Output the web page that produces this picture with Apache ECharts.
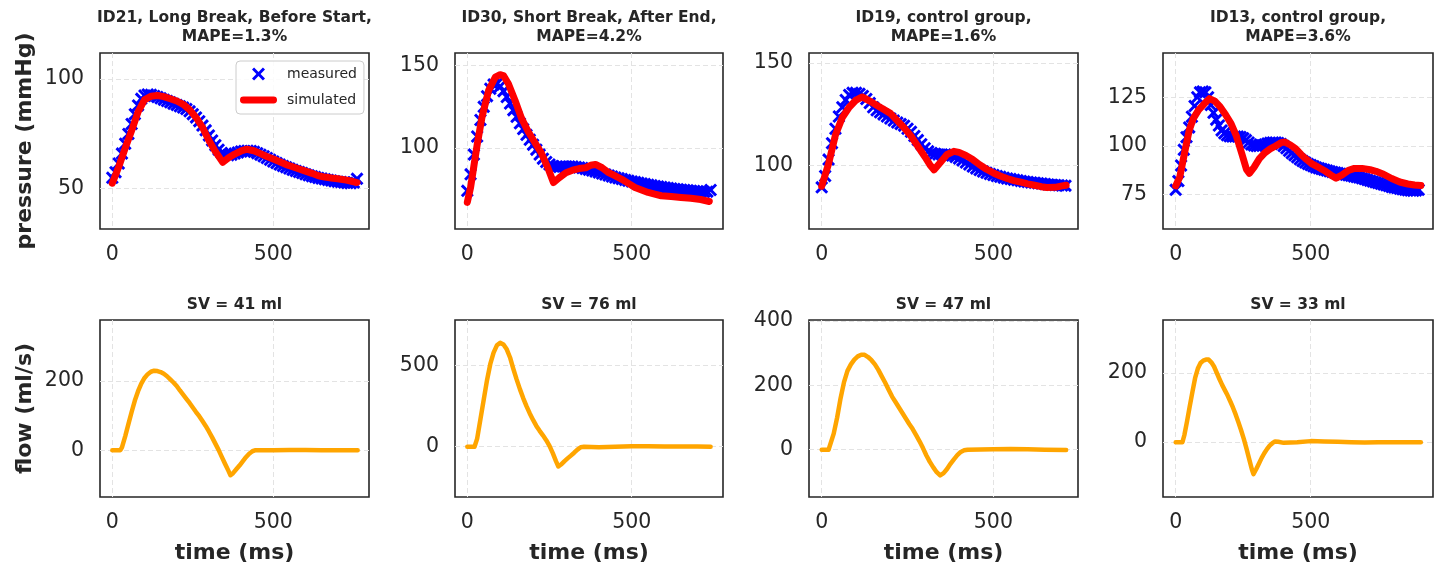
<!DOCTYPE html>
<html><head><meta charset="utf-8">
<script src="https://cdn.jsdelivr.net/npm/echarts@6/dist/echarts.min.js"></script>
<style>html,body{margin:0;padding:0;background:#fff}#c{width:1440px;height:571px}</style>
</head><body><div id="c"></div>
<script>
// ---------------- data ----------------
const titles = [
  'ID21, Long Break, Before Start,\nMAPE=1.3%',
  'ID30, Short Break, After End,\nMAPE=4.2%',
  'ID19, control group,\nMAPE=1.6%',
  'ID13, control group,\nMAPE=3.6%'
];
const svTitles = ['SV = 41 ml', 'SV = 76 ml', 'SV = 47 ml', 'SV = 33 ml'];
const measStep = 10; // ms between measured samples

const measured1 = [55,57.5,61.5,66,70.5,75,79.5,84,88,91,
  92.5,93,92.8,92.3,91.8,91.2,90.6,90,89.4,88.8,
  88.2,87.6,87,86.3,85.3,84,82.5,80.8,78.8,76.6,
  74.3,72,69.8,67.8,66.3,65.5,65.3,65.5,66,66.5,
  67,67.2,67.3,67.2,66.8,66.2,65.5,64.8,64,63.2,
  62.4,61.7,61,60.4,59.8,59.2,58.6,58.1,57.6,57.1,
  56.6,56.1,55.7,55.3,54.9,54.6,54.3,54,53.7,53.4,
  53.2,53,52.8,52.6,52.5,52.8,54.5];
const measured2 = [74,84,96,107,117,125,131.5,136,138.5,139,
  137.5,134.5,131,127,123,119,115,111.5,108,105,
  102,99,96,93.5,91.5,90,89,88.5,88.5,88.7,
  88.8,88.8,88.7,88.5,88.2,87.8,87.3,86.8,86.3,85.7,
  85.1,84.5,83.9,83.3,82.7,82.1,81.6,81.1,80.6,80.1,
  79.7,79.3,78.9,78.5,78.1,77.7,77.3,76.9,76.6,76.3,
  76,75.7,75.4,75.1,74.9,74.7,74.5,74.3,74.1,73.9,
  73.7,73.5,73.3,73.5,74.5];
const measured3 = [89.5,95,103,111,118,124,128.5,132,134.5,135.5,
  135.5,135,134,132.5,130.5,128.5,127,126,125,124,
  123,122,121,120.3,119.5,118,116.5,114.5,112.5,110.5,
  108.5,107,106.2,105.8,105.5,105.5,105.5,105.3,105,104.3,
  103.5,102.6,101.6,100.6,99.6,98.7,97.9,97.2,96.6,96,
  95.5,95,94.6,94.2,93.8,93.5,93.2,92.9,92.6,92.3,
  92.1,91.9,91.7,91.5,91.3,91.1,90.9,90.7,90.6,90.5,
  90.4,90.3];
const measured4 = [77.5,82,90,98,104.5,109.5,115,120.5,125,127.5,
  128,127.5,125,121,117,113.5,110.5,108,106.5,105.5,
  105,104.8,104.8,104.8,104.6,104,103,101.8,100.8,100.3,
  100,100,100.3,100.8,101.3,101.6,101.8,101.8,101.5,101,
  100,98.8,97.5,96.3,95.2,94.2,93.2,92.3,91.5,90.8,
  90.2,89.6,89,88.6,88.2,87.8,87.4,87,86.7,86.4,
  86.1,85.8,85.5,85.2,85,84.7,84.4,84.1,83.8,83.4,
  83,82.6,82.2,81.8,81.4,81,80.6,80.2,79.8,79.4,
  79,78.7,78.4,78.1,77.8,77.5,77.3,77.1,77,77.2,
  77.5];

const simulated1 = [[0,52.5],[20,60],[40,68.5],[60,76.5],[80,85],[100,90.5],[120,92.2],[140,92.5],[160,92],[180,91],[200,90],[220,88.5],[240,86],[260,82.5],[280,78],[300,72],[320,67],[343,62],[360,64],[380,65.8],[400,67.2],[418,68],[440,67.3],[460,66],[480,64.7],[500,63.5],[520,62.3],[540,61],[560,60],[580,59],[600,58],[620,57],[640,55.9],[660,55.3],[680,54.9],[700,54.5],[720,54.1],[740,53.5],[760,52.8]];
const simulated2 = [[0,67],[10,76],[20,89],[30,102],[45,119],[65,135],[85,143],[100,144.5],[110,144],[125,139],[145,129],[165,118],[185,110],[205,103.5],[225,97],[245,88],[262,79],[280,82],[300,85],[320,86.5],[340,87.5],[360,88],[375,89.5],[390,90],[410,88],[430,85],[450,83],[470,81],[490,78.5],[510,76],[530,74.5],[550,73],[570,72],[590,71],[620,70.5],[650,70],[680,69.5],[710,68.7],[736,67.5]];
const simulated3 = [[0,90],[20,101],[40,115],[60,123.5],[80,128.5],[100,132],[118,133.5],[140,131.5],[160,129.5],[180,127.5],[200,125.5],[220,122],[240,118.5],[260,114.5],[280,109.5],[300,104.5],[315,100.5],[327,98],[345,101.5],[365,105.5],[385,107],[400,106.5],[420,105],[440,103],[460,100.5],[480,98.3],[500,96.5],[520,95],[540,93.8],[560,92.8],[580,92],[600,91.2],[620,90.5],[640,89.8],[655,89.4],[680,89.5],[700,90.2],[712,90.5]];
const simulated4 = [[0,79.5],[15,84],[25,91],[38,100],[50,108],[65,114],[85,118.5],[105,121.5],[125,124.3],[145,123],[165,120],[185,116],[205,111.5],[225,105],[245,96],[262,88],[273,86],[290,89],[310,93.5],[330,96.5],[350,98.5],[370,100],[390,101.7],[405,102],[425,100.5],[445,98.5],[465,95.5],[485,93],[505,90.8],[530,89],[555,87],[575,85],[594,83.5],[615,85],[640,87.5],[662,88.5],[690,88.5],[720,87.8],[742,87],[770,85.5],[800,83.3],[830,81.5],[860,80.5],[885,80],[908,79.7]];

const flow1 = [[0,0],[25,0],[30,8],[40,40],[50,75],[60,110],[70,143],[80,170],[90,192],[100,208],[110,219],[120,226],[130,229],[140,228],[150,225],[160,220],[170,213],[180,204],[190,195],[200,185],[210,172],[220,160],[230,148],[240,136],[250,123],[260,110],[270,98],[280,84],[290,70],[300,54],[310,37],[320,19],[330,1],[340,-19],[350,-39],[360,-58],[367,-72],[375,-66],[385,-55],[395,-44],[405,-32],[415,-20],[425,-10],[435,-3],[445,0],[500,0],[550,1],[600,1],[650,0],[700,0],[762,0]];
const flow2 = [[0,0],[22,0],[30,50],[40,170],[50,290],[60,410],[70,510],[80,580],[90,625],[100,640],[110,630],[120,600],[130,550],[140,480],[150,415],[160,355],[170,300],[180,250],[190,205],[200,165],[210,128],[220,98],[230,70],[240,40],[250,5],[260,-40],[270,-90],[277,-122],[285,-110],[295,-90],[305,-72],[315,-55],[325,-37],[335,-18],[345,-3],[355,0],[400,-3],[450,0],[500,3],[550,3],[600,2],[650,1],[700,1],[740,0]];
const flow3 = [[0,0],[20,0],[25,5],[35,50],[45,100],[55,160],[65,210],[75,245],[85,265],[95,280],[105,290],[115,295],[125,295],[135,288],[145,278],[155,265],[165,248],[175,228],[185,208],[195,186],[205,165],[215,148],[225,131],[235,114],[245,97],[255,80],[265,64],[275,45],[285,26],[295,5],[305,-18],[315,-38],[325,-55],[335,-70],[345,-80],[355,-73],[365,-60],[375,-44],[385,-30],[395,-17],[405,-7],[415,-2],[425,0],[500,1],[550,2],[600,1],[650,0],[712,-1]];
const flow4 = [[0,0],[25,0],[32,20],[42,60],[52,103],[62,145],[72,185],[82,212],[92,228],[102,235],[112,238],[122,238],[132,230],[142,218],[152,200],[162,182],[172,165],[182,150],[192,135],[202,118],[212,100],[222,80],[232,58],[242,35],[252,10],[262,-18],[272,-48],[282,-78],[288,-92],[298,-78],[308,-62],[318,-46],[328,-32],[338,-20],[348,-10],[358,-3],[368,2],[380,1],[400,-2],[450,0],[500,3],[550,2],[600,1],[650,0],[700,-1],[750,0],[800,0],[850,0],[908,0]];

const xTicks = [0, 500];
const pressureTicks = [[50,100],[100,150],[100,150],[75,100,125]];
const flowTicks = [[0,200],[0,500],[0,200,400],[0,200]];
const xLimits = [[-38.2,797.2],[-37.4,777.7],[-37,746.5],[-47,953]];
const pressureLimits = [[31.6,111.9],[50.8,157.7],[69.2,154.9],[57.4,147.7]];
const flowLimits = [[-134.7,375],[-310,781],[-147,403],[-158,352]];

// ---------------- chart ----------------
const measured = [measured1, measured2, measured3, measured4];
const simulated = [simulated1, simulated2, simulated3, simulated4];
const flows = [flow1, flow2, flow3, flow4];

const FONT = 'DejaVu Sans';
const TXT = '#262626';
const colLeft = [100, 455, 809, 1163];
const colWidth = [269, 268, 269, 270];
const rowTop = [53, 320];
const rowHeight = [176, 177];
const xPath = 'path://M0,1.6 L1.6,0 L5,3.4 L8.4,0 L10,1.6 L6.6,5 L10,8.4 L8.4,10 L5,6.6 L1.6,10 L0,8.4 L3.4,5 Z';
const barPath = 'path://M3,0 L34,0 A3,3 0 0 1 34,7 L3,7 A3,3 0 0 1 3,0 Z';

const grids = [], xAxes = [], yAxes = [], series = [], graphics = [];
for (let r = 0; r < 2; r++) {
  for (let c = 0; c < 4; c++) {
    const i = r * 4 + c;
    grids.push({left: colLeft[c], top: rowTop[r], width: colWidth[c], height: rowHeight[r],
      show: true, borderColor: TXT, borderWidth: 1.6, backgroundColor: '#fff', containLabel: false});
    xAxes.push({type: 'value', gridIndex: i, min: xLimits[c][0], max: xLimits[c][1],
      axisLine: {show: false}, axisTick: {show: false, customValues: xTicks},
      axisLabel: {customValues: xTicks, fontSize: 20.5, color: TXT, fontFamily: FONT, margin: 15},
      splitLine: {show: true, lineStyle: {color: '#e3e3e3', type: [5, 3], width: 1}},
      name: r === 1 ? 'time (ms)' : '', nameLocation: 'middle', nameGap: 45,
      nameTextStyle: {fontSize: 22, fontWeight: 'bold', color: TXT, fontFamily: FONT}});
    const ticks = r === 0 ? pressureTicks[c] : flowTicks[c];
    const lim = r === 0 ? pressureLimits[c] : flowLimits[c];
    yAxes.push({type: 'value', gridIndex: i, min: lim[0], max: lim[1],
      axisLine: {show: false}, axisTick: {show: false, customValues: ticks},
      axisLabel: {customValues: ticks, fontSize: 20.5, color: TXT, fontFamily: FONT, margin: 16},
      splitLine: {show: true, lineStyle: {color: '#e3e3e3', type: [5, 3], width: 1}},
      name: c === 0 ? (r === 0 ? 'pressure (mmHg)' : 'flow (ml/s)') : '',
      nameLocation: 'middle', nameGap: 64, nameRotate: 90,
      nameTextStyle: {fontSize: 22, fontWeight: 'bold', color: TXT, fontFamily: FONT}});
    if (r === 0) {
      series.push({type: 'scatter', name: 'measured', xAxisIndex: i, yAxisIndex: i,
        data: measured[c].map((v, k) => [k * measStep, v]),
        symbol: xPath, symbolSize: 13, itemStyle: {color: '#0000ff', opacity: 1}, z: 2, silent: true});
      series.push({type: 'line', name: 'simulated', xAxisIndex: i, yAxisIndex: i,
        data: simulated[c], symbol: 'none', showSymbol: false, color: '#ff0000',
        itemStyle: {color: '#ff0000'},
        lineStyle: {color: '#ff0000', width: 7, cap: 'round', join: 'round'}, z: 3, silent: true});
      graphics.push({type: 'text', x: colLeft[c] + colWidth[c] / 2, y: 27,
        style: {text: titles[c], align: 'center', verticalAlign: 'middle', lineHeight: 19,
          font: 'bold 15.5px "DejaVu Sans"', fill: TXT}});
    } else {
      series.push({type: 'line', name: 'flow', xAxisIndex: i, yAxisIndex: i,
        data: flows[c], symbol: 'none', showSymbol: false, color: '#ffa500',
        lineStyle: {color: '#ffa500', width: 4.5, cap: 'round', join: 'round'}, z: 3, silent: true});
      graphics.push({type: 'text', x: colLeft[c] + colWidth[c] / 2, y: 305,
        style: {text: svTitles[c], align: 'center', verticalAlign: 'middle',
          font: 'bold 15.5px "DejaVu Sans"', fill: TXT}});
    }
  }
}

const chart = echarts.init(document.getElementById('c'), null, {renderer: 'canvas'});
chart.setOption({
  animation: false,
  backgroundColor: '#ffffff',
  textStyle: {fontFamily: FONT},
  grid: grids, xAxis: xAxes, yAxis: yAxes, series: series,
  legend: {show: true, left: 236, top: 61, orient: 'vertical', padding: [6, 7, 7, 4], itemGap: 12,
    itemWidth: 37, itemHeight: 13, backgroundColor: 'rgba(255,255,255,0.85)',
    borderColor: '#cccccc', borderWidth: 1, borderRadius: 4, selectedMode: false,
    textStyle: {fontSize: 14, color: TXT, fontFamily: FONT, padding: [0, 0, 0, 5]},
    data: [{name: 'measured', icon: xPath, itemStyle: {color: '#0000ff', opacity: 1}},
           {name: 'simulated', icon: barPath, itemStyle: {color: '#ff0000'}}]},
  graphic: graphics
});
</script></body></html>
